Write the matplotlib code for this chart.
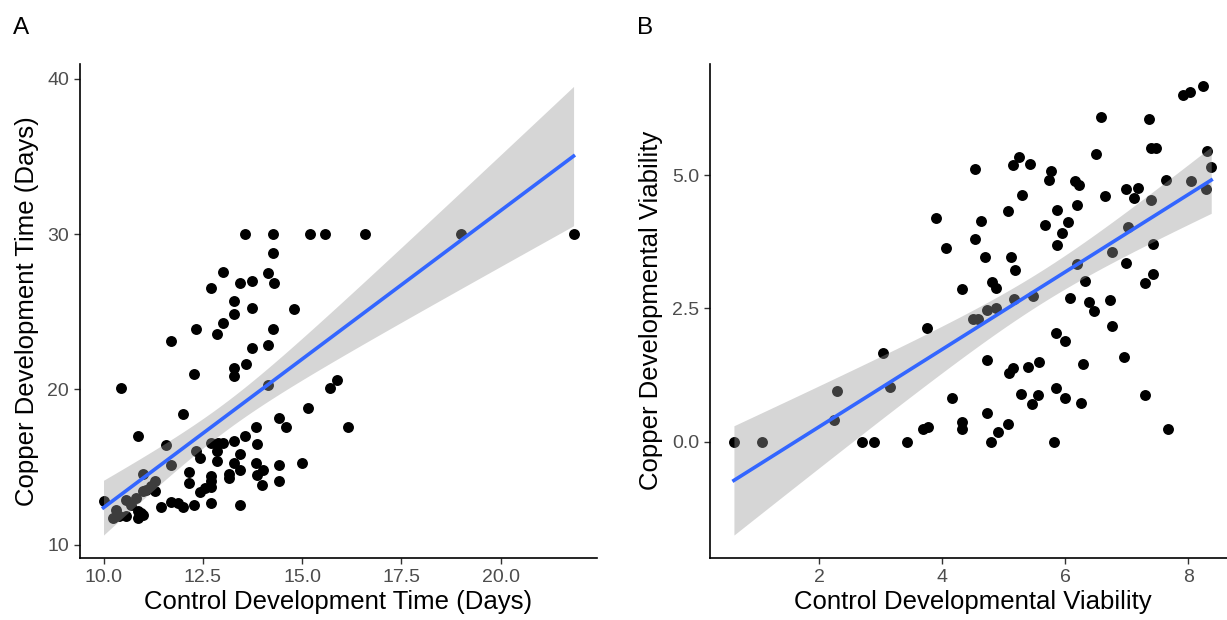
import numpy as np
import matplotlib.pyplot as plt

plt.rcParams['font.family'] = ['Liberation Sans', 'DejaVu Sans']

# panel A: development time (days)
dev_control = [13.56, 14.28, 15.2, 15.58, 16.58, 19.0, 21.84,
               14.28, 13.02, 14.15, 12.72, 13.43, 13.73, 14.29,
               13.28, 13.73, 14.81, 13.28, 13.02, 12.34, 12.85,
               14.28, 11.71, 13.73, 14.15, 13.6, 13.28, 13.28,
               12.28, 10.43, 14.15, 15.88, 15.71, 15.16, 12.0,
               14.42, 14.59, 13.84, 16.15, 10.87, 13.56, 13.28,
               11.58, 12.72, 12.89, 13.02, 13.86, 12.34, 12.42,
               12.85, 12.85, 13.43, 13.28, 13.43, 13.84, 14.02,
               14.42, 14.99, 11.71, 12.15, 13.16, 13.16, 12.72,
               12.72, 13.86, 14.42, 14.0, 12.15, 12.55, 12.42,
               12.72, 10.99, 11.29, 11.2, 11.08, 10.99, 11.29,
               10.83, 10.7, 10.57, 10.0, 10.32, 10.24, 10.4,
               10.57, 10.87, 10.87, 10.99, 10.95, 11.44, 11.71,
               11.88, 12.0, 12.28, 12.72, 13.43]
dev_copper = [30.0, 30.0, 30.0, 30.0, 30.0, 30.0, 30.0,
              28.8, 27.57, 27.48, 26.56, 26.88, 26.99, 26.84,
              25.7, 25.26, 25.16, 24.84, 24.26, 23.87, 23.55,
              23.87, 23.12, 22.68, 22.84, 21.65, 21.4, 20.86,
              20.97, 20.1, 20.28, 20.58, 20.1, 18.81, 18.39,
              18.17, 17.57, 17.59, 17.57, 16.99, 16.99, 16.71,
              16.45, 16.55, 16.55, 16.55, 16.52, 16.02, 15.59,
              16.02, 15.37, 15.85, 15.26, 14.84, 15.26, 14.84,
              15.12, 15.26, 15.12, 14.68, 14.56, 14.3, 14.45,
              14.08, 14.52, 14.13, 13.83, 13.97, 13.65, 13.39,
              13.7, 14.55, 14.08, 13.76, 13.55, 13.44, 13.48,
              13.0, 12.58, 12.9, 12.84, 12.26, 11.72, 11.83,
              11.83, 12.15, 11.72, 11.94, 12.04, 12.41, 12.73,
              12.68, 12.41, 12.54, 12.68, 12.54]

# panel B: developmental viability
via_control = [8.23, 7.91, 8.02, 6.58, 7.36, 7.39, 7.48, 8.30, 8.37,
               6.49, 5.24, 5.15, 5.43, 4.53, 5.77, 5.73, 6.15, 6.22,
               7.64, 8.04, 8.29, 6.99, 7.18, 6.64, 7.12, 7.39, 5.30,
               6.19, 5.07, 5.87, 3.89, 4.63, 6.04, 5.66, 5.95, 7.02,
               4.53, 4.05, 5.87, 7.43, 6.76, 4.70, 5.11, 5.18, 6.19,
               6.99, 4.31, 4.80, 4.87, 6.31, 7.42, 7.29, 5.16, 5.48,
               6.08, 6.39, 6.46, 6.72, 4.73, 4.87, 4.50, 4.58, 3.75,
               5.85, 6.0, 6.76, 3.04, 4.73, 5.57, 5.15, 5.09, 5.39,
               6.28, 6.95, 3.15, 2.29, 2.23, 4.15, 5.28, 5.56, 5.45,
               5.84, 6.0, 6.26, 7.30, 4.73, 4.32, 4.31, 3.68, 3.76,
               4.90, 5.06, 7.66, 0.61, 1.07, 2.69, 2.88, 3.42, 4.79, 5.82]
via_copper = [6.67, 6.50, 6.56, 6.10, 6.06, 5.52, 5.52, 5.45, 5.15,
              5.41, 5.34, 5.20, 5.22, 5.12, 5.09, 4.92, 4.89, 4.81,
              4.91, 4.89, 4.75, 4.75, 4.77, 4.61, 4.57, 4.54, 4.64,
              4.44, 4.33, 4.34, 4.20, 4.14, 4.12, 4.06, 3.92, 4.03,
              3.81, 3.63, 3.69, 3.72, 3.57, 3.47, 3.47, 3.22, 3.34,
              3.36, 2.87, 3.0, 2.89, 3.02, 3.14, 2.97, 2.67, 2.73,
              2.70, 2.62, 2.45, 2.66, 2.47, 2.50, 2.31, 2.31, 2.13,
              2.04, 1.89, 2.17, 1.67, 1.53, 1.50, 1.39, 1.28, 1.41,
              1.46, 1.59, 1.03, 0.95, 0.41, 0.82, 0.89, 0.88, 0.71,
              1.01, 0.81, 0.72, 0.88, 0.54, 0.36, 0.23, 0.23, 0.28,
              0.18, 0.33, 0.23, 0, 0, 0, 0, 0, 0, 0]

T95 = 1.984  # t quantile, df ~ 100


def lm_band(x, y, n=80):
    x = np.asarray(x, float)
    y = np.asarray(y, float)
    b, a = np.polyfit(x, y, 1)
    res = y - (a + b * x)
    s = np.sqrt(np.sum(res ** 2) / (len(x) - 2))
    xs = np.linspace(x.min(), x.max(), n)
    se = s * np.sqrt(1 / len(x) + (xs - x.mean()) ** 2 / np.sum((x - x.mean()) ** 2))
    fit = a + b * xs
    return xs, fit, fit - T95 * se, fit + T95 * se


def panel(ax, x, y, xlabel, ylabel):
    ax.scatter(x, y, s=62, color='black', linewidths=0, zorder=2)
    xs, fit, lo, hi = lm_band(x, y)
    ax.fill_between(xs, lo, hi, color='#999999', alpha=0.4, linewidth=0, zorder=3)
    ax.plot(xs, fit, color='#3366FF', lw=2.6, zorder=4)
    ax.margins(0.05)
    for side in ['top', 'right']:
        ax.spines[side].set_visible(False)
    for side in ['left', 'bottom']:
        ax.spines[side].set_linewidth(1.2)
        ax.spines[side].set_color('black')
    ax.tick_params(length=4, width=1, color='#333333', labelcolor='#4D4D4D',
                   labelsize=14, pad=4)
    ax.set_xlabel(xlabel, fontsize=18.5, labelpad=3)
    ax.set_ylabel(ylabel, fontsize=18.5, labelpad=6)


fig = plt.figure(figsize=(12.27, 6.2), dpi=100)

ax1 = fig.add_axes([0.0652, 0.1008, 0.4214, 0.7960])
panel(ax1, dev_control, dev_copper,
      'Control Development Time (Days)', 'Copper Development Time (Days)')
ax1.set_xticks([10, 12.5, 15, 17.5, 20])
ax1.set_xticklabels(['10.0', '12.5', '15.0', '17.5', '20.0'])
ax1.set_yticks([10, 20, 30, 40])

ax2 = fig.add_axes([0.5787, 0.1008, 0.4279, 0.7960])
panel(ax2, via_control, via_copper,
      'Control Developmental Viability', 'Copper Developmental Viability')
ax2.set_xticks([2, 4, 6, 8])
ax2.set_yticks([0, 2.5, 5])
ax2.set_yticklabels(['0.0', '2.5', '5.0'])

fig.text(0.0106, 0.955, 'A', fontsize=17.5, va='center')
fig.text(0.5195, 0.955, 'B', fontsize=17.5, va='center')

fig.savefig('out.png', dpi=100)
